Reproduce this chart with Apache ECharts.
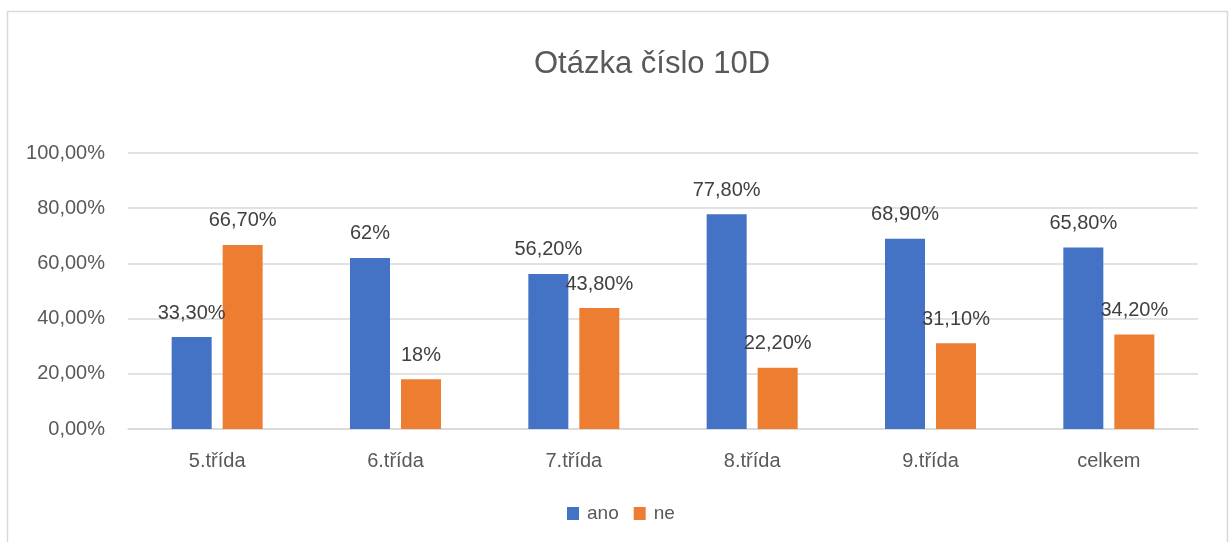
<!DOCTYPE html>
<html>
<head>
<meta charset="utf-8">
<script src="https://cdn.jsdelivr.net/npm/echarts@6/dist/echarts.min.js"></script>
<style>
html, body { margin: 0; padding: 0; background: #fff; }
#CHART { width: 1229px; height: 542px; }
</style>
</head>
<body>
<div id="CHART"></div>
<script>
// kategorie (třídy)
var categories = ['5.třída', '6.třída', '7.třída', '8.třída', '9.třída', 'celkem'];
// odpovědi v procentech
var anoData = [33.3, 62, 56.2, 77.8, 68.9, 65.8];
var neData = [66.7, 18, 43.8, 22.2, 31.1, 34.2];
var legendData = ['ano', 'ne'];
var legendColor = ['#4472C4', '#ED7D31'];

var FONT = 'Liberation Sans, Arial, sans-serif';

// 33.3 -> "33,30%", 62 -> "62%"
function pctLabel(v) {
    if (Math.round(v) === v) return v + '%';
    return v.toFixed(2).replace('.', ',') + '%';
}

function barLabel() {
    return {
        show: true,
        position: 'top',
        distance: 14,
        color: '#404040',
        fontSize: 20,
        fontFamily: FONT,
        formatter: function (p) { return pctLabel(p.value); }
    };
}

var option = {
    animation: false,
    color: legendColor,
    title: {
        text: 'Otázka číslo 10D',
        left: 529,
        top: 44,
        textStyle: {
            color: '#595959',
            fontSize: 31,
            fontWeight: 'normal',
            fontFamily: FONT
        }
    },
    graphic: [{
        type: 'rect',
        shape: { x: 7.5, y: 11.5, width: 1220, height: 600 },
        style: { fill: 'none', stroke: '#d9d9d9', lineWidth: 1.5 },
        silent: true
    }],
    legend: {
        data: legendData,
        left: 562,
        top: 499,
        icon: 'rect',
        itemWidth: 12,
        itemHeight: 13,
        itemGap: 15,
        textStyle: { color: '#595959', fontSize: 19, fontFamily: FONT, padding: [0, 0, 0, 3] }
    },
    grid: { left: 128, right: 31, top: 153, bottom: 113, containLabel: false },
    xAxis: {
        type: 'category',
        data: categories,
        axisTick: { show: false },
        axisLine: { lineStyle: { color: '#d9d9d9', width: 1.5 } },
        axisLabel: { color: '#595959', fontSize: 20, fontFamily: FONT, margin: 22 }
    },
    yAxis: {
        type: 'value',
        min: 0,
        max: 100,
        interval: 20,
        axisLine: { show: false },
        axisTick: { show: false },
        splitLine: { lineStyle: { color: '#d9d9d9', width: 1.5 } },
        axisLabel: {
            color: '#595959',
            fontSize: 20,
            fontFamily: FONT,
            margin: 23,
            formatter: function (v) { return v.toFixed(2).replace('.', ',') + '%'; }
        }
    },
    series: [
        {
            name: 'ano',
            type: 'bar',
            data: anoData,
            barWidth: 40,
            barGap: '27.5%',
            label: barLabel()
        },
        {
            name: 'ne',
            type: 'bar',
            data: neData,
            barWidth: 40,
            label: barLabel()
        }
    ]
};

var chart = echarts.init(document.getElementById('CHART'));
chart.setOption(option);
</script>
</body>
</html>
